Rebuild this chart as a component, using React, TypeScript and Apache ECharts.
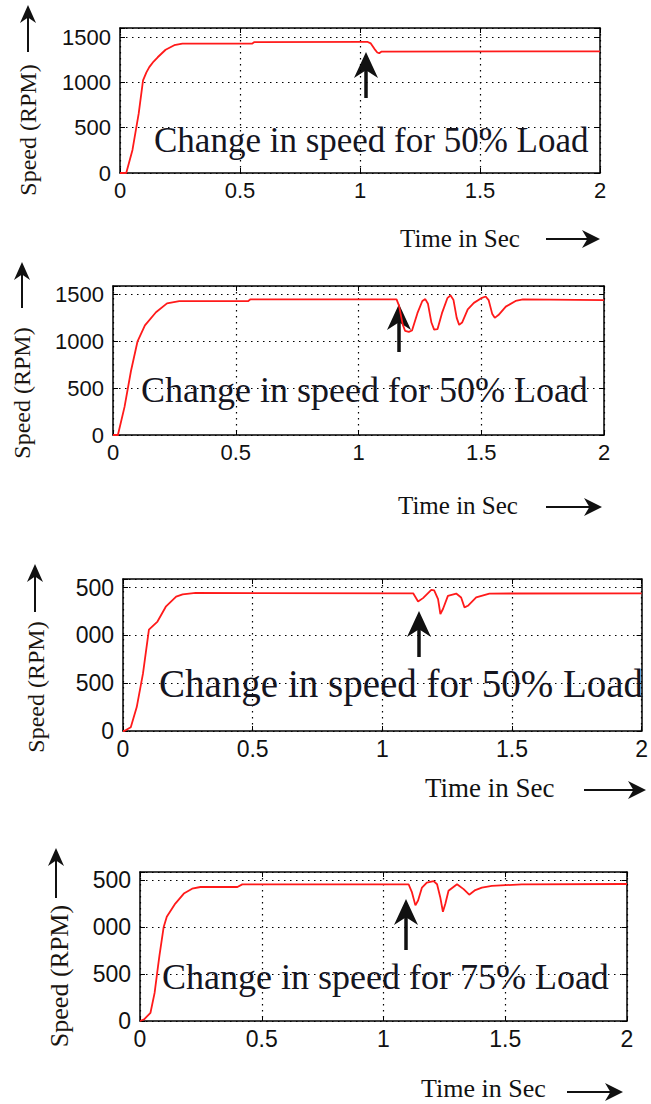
import React, { useEffect, useRef } from "react";
import * as echarts from "echarts";

// ---------- data ----------
const xTickLabels = ["0", "0.5", "1", "1.5", "2"];
const p1YTickLabels = ["0", "500", "1000", "1500"];
const p2YTickLabels = ["0", "500", "1000", "1500"];
const p3YTickLabels = ["0", "500", "000", "500"];
const p4YTickLabels = ["0", "500", "000", "500"];

const yAxisTitle = "Speed (RPM)";
const xAxisTitle = "Time in Sec";
const p1Caption = "Change in speed for 50% Load";
const p2Caption = "Change in speed for 50% Load";
const p3Caption = "Change in speed for 50% Load";
const p4Caption = "Change in speed for 75% Load";

const p1Time = [0, 0.026, 0.052, 0.078, 0.096, 0.11, 0.122, 0.14, 0.157, 0.19, 0.226, 0.26, 0.55, 0.56, 1.03, 1.045, 1.06, 1.072, 1.08, 1.09, 2];
const p1Speed = [0, 0, 255, 657, 1022, 1110, 1168, 1230, 1277, 1360, 1410, 1427, 1427, 1445, 1448, 1430, 1370, 1330, 1321, 1340, 1342];

const p2Time = [0, 0.02, 0.047, 0.073, 0.1, 0.13, 0.175, 0.22, 0.27, 0.55, 0.56, 1.155, 1.165, 1.18, 1.19, 1.205, 1.218, 1.24, 1.26, 1.272, 1.283, 1.297, 1.308, 1.322, 1.34, 1.362, 1.375, 1.387, 1.4, 1.41, 1.422, 1.445, 1.47, 1.5, 1.518, 1.53, 1.545, 1.555, 1.57, 1.6, 1.64, 1.67, 2];
const p2Speed = [0, 0, 300, 680, 1000, 1170, 1310, 1405, 1428, 1428, 1448, 1448, 1380, 1180, 1110, 1100, 1115, 1300, 1430, 1450, 1400, 1200, 1125, 1130, 1300, 1460, 1490, 1440, 1250, 1175, 1200, 1340, 1410, 1460, 1478, 1440, 1290, 1250, 1280, 1370, 1430, 1448, 1440];

const p3Time = [0, 0.005, 0.03, 0.053, 0.077, 0.1, 0.133, 0.165, 0.205, 0.23, 0.28, 1.119, 1.138, 1.157, 1.189, 1.2, 1.215, 1.224, 1.234, 1.253, 1.285, 1.304, 1.317, 1.33, 1.362, 1.413, 2];
const p3Speed = [0, 0, 40, 250, 600, 1060, 1145, 1300, 1405, 1430, 1444, 1440, 1355, 1390, 1476, 1470, 1380, 1224, 1276, 1414, 1438, 1397, 1293, 1310, 1397, 1438, 1440];

const p4Time = [0, 0.017, 0.043, 0.06, 0.074, 0.08, 0.097, 0.11, 0.145, 0.18, 0.214, 0.248, 0.4, 0.42, 1.103, 1.117, 1.131, 1.142, 1.158, 1.178, 1.206, 1.22, 1.233, 1.244, 1.254, 1.267, 1.302, 1.329, 1.352, 1.377, 1.404, 1.445, 1.568, 2];
const p4Speed = [0, 18, 88, 300, 582, 700, 1000, 1113, 1253, 1360, 1412, 1430, 1430, 1458, 1459, 1372, 1234, 1286, 1424, 1476, 1493, 1459, 1321, 1166, 1252, 1390, 1459, 1407, 1348, 1397, 1424, 1441, 1459, 1462];

// ---------- layout ----------
const panels = [
  { time: p1Time, speed: p1Speed, yLabels: p1YTickLabels, caption: p1Caption,
    left: 120, top: 28, right: 600, bottom: 173, yMax: 1600, tickFont: 22,
    ylab: { x: 28, y: 130, size: 24 }, up: { x: 28, top: 5, bottom: 52 },
    xt: { x: 400, y: 238, size: 25 }, ra: { x1: 546, x2: 600, y: 239 },
    cap: { x: 154, y: 140, size: 35 }, ann: { x: 366, tip: 52, bottom: 98 } },
  { time: p2Time, speed: p2Speed, yLabels: p2YTickLabels, caption: p2Caption,
    left: 113, top: 286, right: 604, bottom: 435, yMax: 1590, tickFont: 22,
    ylab: { x: 22, y: 393, size: 24 }, up: { x: 22, top: 262, bottom: 308 },
    xt: { x: 398, y: 505, size: 25 }, ra: { x1: 546, x2: 602, y: 507 },
    cap: { x: 141, y: 390, size: 36 }, ann: { x: 399, tip: 304, bottom: 352 } },
  { time: p3Time, speed: p3Speed, yLabels: p3YTickLabels, caption: p3Caption,
    left: 123, top: 579, right: 646, bottom: 731, yMax: 1590, tickFont: 23,
    ylab: { x: 36, y: 687, size: 24 }, up: { x: 35, top: 564, bottom: 612 },
    xt: { x: 425, y: 788, size: 27 }, ra: { x1: 584, x2: 646, y: 790 },
    cap: { x: 159, y: 683, size: 39 }, ann: { x: 419, tip: 611, bottom: 657 } },
  { time: p4Time, speed: p4Speed, yLabels: p4YTickLabels, caption: p4Caption,
    left: 140, top: 872, right: 627, bottom: 1021, yMax: 1590, tickFont: 23,
    ylab: { x: 59, y: 976, size: 26 }, up: { x: 56, top: 848, bottom: 898 },
    xt: { x: 421, y: 1088, size: 26 }, ra: { x1: 567, x2: 623, y: 1092 },
    cap: { x: 162, y: 977, size: 36 }, ann: { x: 406, tip: 899, bottom: 950 } },
];

const SERIF = "'Liberation Serif', 'Times New Roman', serif";
const SANS = "'Liberation Sans', Arial, sans-serif";
const INK = "#111";

function upArrow(x: number, top: number, bottom: number, hw: number, hl: number, lw: number) {
  return [
    { type: "line", shape: { x1: x, y1: bottom, x2: x, y2: top + hl * 0.6 }, style: { stroke: INK, lineWidth: lw } },
    { type: "polygon", shape: { points: [[x, top], [x - hw / 2, top + hl], [x, top + hl * 0.7], [x + hw / 2, top + hl]] }, style: { fill: INK } },
  ];
}
function rightArrow(x1: number, x2: number, y: number, hw: number, hl: number, lw: number) {
  return [
    { type: "line", shape: { x1, y1: y, x2: x2 - hl * 0.6, y2: y }, style: { stroke: INK, lineWidth: lw } },
    { type: "polygon", shape: { points: [[x2, y], [x2 - hl, y - hw / 2], [x2 - hl * 0.7, y], [x2 - hl, y + hw / 2]] }, style: { fill: INK } },
  ];
}

function labelFrom(arr: string[], step: number) {
  return (v: number) => {
    const i = Math.round(v / step);
    return Math.abs(v - i * step) < 1e-6 && arr[i] !== undefined ? arr[i] : "";
  };
}

export default function App() {
  const ref = useRef<HTMLDivElement>(null);
  useEffect(() => {
    if (!ref.current) return;
    const chart = echarts.init(ref.current, null, { renderer: "svg" });
    const grid: any[] = [];
    const xAxis: any[] = [];
    const yAxis: any[] = [];
    const series: any[] = [];
    const graphic: any[] = [];
    const axisLine = { show: true, onZero: false, lineStyle: { color: "#000", width: 1.5 } };
    const tick = { show: true, inside: true, length: 5, lineStyle: { color: "#000", width: 1 } };
    const split = { show: true, lineStyle: { color: "#000", width: 1.2, type: [1.5, 4.5] } };
    panels.forEach((p, i) => {
      grid.push({ left: p.left, top: p.top, width: p.right - p.left, height: p.bottom - p.top, show: false });
      xAxis.push({ type: "value", gridIndex: i, position: "bottom", min: 0, max: 2, interval: 0.5,
        axisLine, axisTick: tick, splitLine: split,
        axisLabel: { formatter: labelFrom(xTickLabels, 0.5), fontSize: p.tickFont, color: INK, fontFamily: SANS, margin: 6 } });
      xAxis.push({ type: "value", gridIndex: i, position: "top", min: 0, max: 2, interval: 0.5,
        axisLine, axisTick: tick, splitLine: { show: false }, axisLabel: { show: false } });
      yAxis.push({ type: "value", gridIndex: i, position: "left", min: 0, max: p.yMax, interval: 500,
        axisLine, axisTick: tick, splitLine: split,
        axisLabel: { formatter: labelFrom(p.yLabels, 500), fontSize: p.tickFont, color: INK, fontFamily: SANS, margin: 9 } });
      yAxis.push({ type: "value", gridIndex: i, position: "right", min: 0, max: p.yMax, interval: 500,
        axisLine, axisTick: tick, splitLine: { show: false }, axisLabel: { show: false } });
      series.push({ type: "line", xAxisIndex: i * 2, yAxisIndex: i * 2, showSymbol: false, smooth: false,
        data: p.time.map((t, k) => [t, p.speed[k]]),
        lineStyle: { color: "#ff1a1a", width: 1.8 }, z: 3 });
      graphic.push({ type: "text", x: p.ylab.x, y: p.ylab.y, rotation: Math.PI / 2,
        style: { text: yAxisTitle, fontFamily: SERIF, fontSize: p.ylab.size, fill: "#1a1510", align: "center", verticalAlign: "middle" } });
      graphic.push(...upArrow(p.up.x, p.up.top, p.up.bottom, 16, 18, 2));
      graphic.push({ type: "text", x: p.xt.x, y: p.xt.y,
        style: { text: xAxisTitle, fontFamily: SERIF, fontSize: p.xt.size, fill: INK, align: "left", verticalAlign: "middle" } });
      graphic.push(...rightArrow(p.ra.x1, p.ra.x2, p.ra.y, 18, 18, 2));
      graphic.push({ type: "text", x: p.cap.x, y: p.cap.y, z: 10,
        style: { text: p.caption, fontFamily: SERIF, fontSize: p.cap.size, fill: "#15151f", align: "left", verticalAlign: "middle" } });
      graphic.push(...upArrow(p.ann.x, p.ann.tip, p.ann.bottom, 24, 26, 3.5));
    });
    chart.setOption({ animation: false, backgroundColor: "#fff", grid, xAxis, yAxis, series, graphic });
    return () => chart.dispose();
  }, []);
  return <div ref={ref} style={{ position: "absolute", left: 0, top: 0, width: 651, height: 1104 }} />;
}
